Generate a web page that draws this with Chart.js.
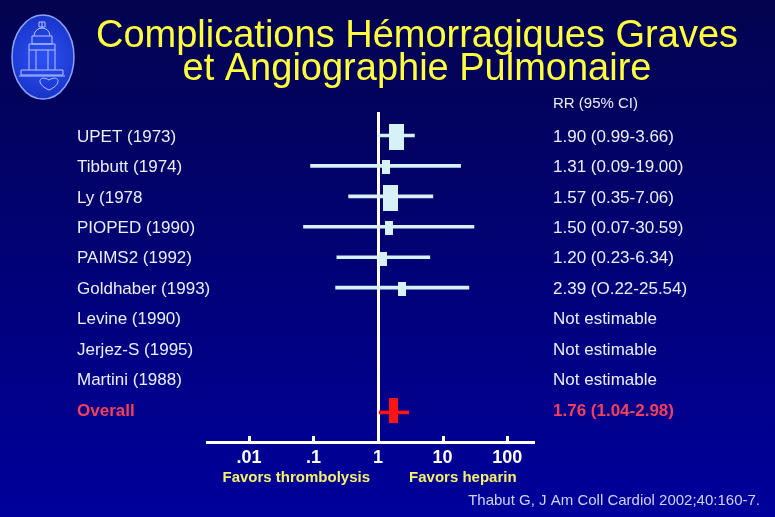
<!DOCTYPE html>
<html>
<head>
<meta charset="utf-8">
<script src="https://cdn.jsdelivr.net/npm/chart.js@4/dist/chart.umd.min.js"></script>
<style>
  html, body { margin: 0; padding: 0; background: #000070; }
  #wrap { width: 775px; height: 517px; position: relative; }
</style>
</head>
<body>
<div id="wrap"><canvas id="c" width="775" height="517"></canvas></div>
<script>
// Studies, relative risks and 95% confidence intervals
const studies = ['UPET (1973)', 'Tibbutt (1974)', 'Ly (1978', 'PIOPED (1990)', 'PAIMS2 (1992)',
  'Goldhaber (1993)', 'Levine (1990)', 'Jerjez-S (1995)', 'Martini (1988)', 'Overall'];
const rr = [1.90, 1.31, 1.57, 1.50, 1.20, 2.39, null, null, null, 1.76];
const ciLow = [0.99, 0.09, 0.35, 0.07, 0.23, 0.22, null, null, null, 1.04];
const ciHigh = [3.66, 19.00, 7.06, 30.59, 6.34, 25.54, null, null, null, 2.98];
const weights = [35, 10, 35, 10, 10, 10, null, null, null, null];
const rrLabels = ['1.90 (0.99-3.66)', '1.31 (0.09-19.00)', '1.57 (0.35-7.06)', '1.50 (0.07-30.59)',
  '1.20 (0.23-6.34)', '2.39 (O.22-25.54)', 'Not estimable', 'Not estimable', 'Not estimable',
  '1.76 (1.04-2.98)'];
const xTicks = [0.01, 0.1, 1, 10, 100];
const xTickLabels = ['.01', '.1', '1', '10', '100'];

const FONT = '"Liberation Sans", Arial, Helvetica, sans-serif';
const OVERALL = studies.length - 1;
const LIGHT = '#d6f2f8';
const RED = '#ff1414';
const TEXT = '#eceef8';
const TEXT_RED = '#f4405a';

// Rectangular marker drawn into an offscreen canvas
function makeBox(w, h, color) {
  const c = document.createElement('canvas');
  c.width = w; c.height = h;
  const g = c.getContext('2d');
  g.fillStyle = color;
  g.fillRect(0, 0, w, h);
  return c;
}

const studyIdx = rr.map((v, i) => i).filter(i => rr[i] !== null && i !== OVERALL);

const ciData = studyIdx.map(i => ({ x: [ciLow[i], ciHigh[i]], y: i }));
const boxData = studyIdx.map(i => ({ x: rr[i], y: i }));
const boxStyles = studyIdx.map(i => {
  const s = Math.sqrt(weights[i]);
  return makeBox(Math.round(2.6 * s), Math.round(4.4 * s), LIGHT);
});

const decorations = {
  id: 'decorations',
  beforeDraw(chart) {
    const ctx = chart.ctx;
    ctx.save();
    const bg = ctx.createLinearGradient(0, 0, 0, chart.height);
    bg.addColorStop(0, '#03034f');
    bg.addColorStop(1, '#00009c');
    ctx.fillStyle = bg;
    ctx.fillRect(0, 0, chart.width, chart.height);

    // emblem
    const cx = 43, cy = 57;
    const rg = ctx.createRadialGradient(cx, cy, 5, cx, cy, 45);
    rg.addColorStop(0, '#2c4ef0');
    rg.addColorStop(1, '#1632c4');
    ctx.beginPath();
    ctx.ellipse(cx, cy, 31, 42, 0, 0, Math.PI * 2);
    ctx.fillStyle = rg;
    ctx.fill();
    ctx.lineWidth = 1.5;
    ctx.strokeStyle = '#8ea2ff';
    ctx.stroke();
    ctx.strokeStyle = '#b4c2ff';
    ctx.lineWidth = 1;
    ctx.beginPath();
    ctx.arc(cx - 1, 36, 8, Math.PI, 0);
    ctx.moveTo(cx - 1, 28); ctx.lineTo(cx - 1, 22);
    ctx.rect(cx - 4, 22, 6, 5);
    ctx.rect(cx - 11, 36, 20, 8);
    ctx.rect(cx - 14, 44, 26, 6);
    ctx.moveTo(cx - 14, 50); ctx.lineTo(cx - 14, 70);
    ctx.moveTo(cx - 7, 50); ctx.lineTo(cx - 7, 70);
    ctx.moveTo(cx + 5, 50); ctx.lineTo(cx + 5, 70);
    ctx.moveTo(cx + 12, 50); ctx.lineTo(cx + 12, 70);
    ctx.rect(cx - 22, 70, 42, 5);
    ctx.moveTo(cx - 24, 76); ctx.lineTo(cx + 22, 76);
    ctx.stroke();
    ctx.beginPath();
    ctx.moveTo(cx + 6, 90);
    ctx.bezierCurveTo(cx - 8, 84, cx - 4, 74, cx + 6, 80);
    ctx.bezierCurveTo(cx + 16, 74, cx + 20, 84, cx + 6, 90);
    ctx.stroke();

    // title
    ctx.fillStyle = '#ffff3e';
    ctx.font = '38px ' + FONT;
    ctx.textAlign = 'center';
    ctx.textBaseline = 'alphabetic';
    ctx.fillText('Complications Hémorragiques Graves', 417, 47);
    ctx.fillText('et Angiographie Pulmonaire', 417, 80);
    ctx.restore();
  },
  afterDraw(chart) {
    const ctx = chart.ctx;
    const x = chart.scales.x;
    const area = chart.chartArea;
    ctx.save();
    // small tick marks above the axis line
    ctx.fillStyle = '#ffffff';
    xTicks.forEach(v => {
      if (v === 1) return;
      const px = Math.round(x.getPixelForValue(v));
      ctx.fillRect(px - 1, area.bottom - 6, 3, 6);
    });
    // column header
    ctx.fillStyle = TEXT;
    ctx.font = '15px ' + FONT;
    ctx.textAlign = 'left';
    ctx.textBaseline = 'middle';
    ctx.fillText('RR (95% CI)', 553, 104);
    // direction captions
    const one = x.getPixelForValue(1);
    ctx.fillStyle = '#f4f26a';
    ctx.font = 'bold 15px ' + FONT;
    ctx.textAlign = 'right';
    ctx.fillText('Favors thrombolysis', one - 8, 478);
    ctx.textAlign = 'left';
    ctx.fillText('Favors heparin', one + 31, 478);
    // source
    ctx.fillStyle = '#d0d2f2';
    ctx.font = '15px ' + FONT;
    ctx.textAlign = 'right';
    ctx.fillText('Thabut G, J Am Coll Cardiol 2002;40:160-7.', 760, 501);
    ctx.restore();
  }
};

const rowTicks = scale => { scale.ticks = studies.map((s, i) => ({ value: i })); };
const rowFont = c => ({ family: FONT, size: 17, weight: c.index === OVERALL ? 'bold' : 'normal' });
const rowColor = c => c.index === OVERALL ? TEXT_RED : TEXT;
const LEFT_COL = 130;

new Chart(document.getElementById('c'), {
  type: 'scatter',
  data: {
    datasets: [
      {
        type: 'bar', indexAxis: 'y', data: ciData,
        backgroundColor: LIGHT, borderWidth: 0, barThickness: 3,
        xAxisID: 'x', yAxisID: 'y'
      },
      {
        type: 'bar', indexAxis: 'y',
        data: [{ x: [ciLow[OVERALL], ciHigh[OVERALL]], y: OVERALL }],
        backgroundColor: RED, borderWidth: 0, barThickness: 3,
        xAxisID: 'x', yAxisID: 'y'
      },
      {
        type: 'scatter', data: boxData, pointStyle: boxStyles,
        xAxisID: 'x', yAxisID: 'y'
      },
      {
        type: 'scatter', data: [{ x: rr[OVERALL], y: OVERALL }],
        pointStyle: makeBox(9, 25, RED),
        xAxisID: 'x', yAxisID: 'y'
      }
    ]
  },
  options: {
    responsive: false,
    animation: false,
    events: [],
    layout: { padding: { top: 112, left: 77, right: 0, bottom: 0 } },
    plugins: { legend: { display: false }, tooltip: { enabled: false } },
    scales: {
      x: {
        type: 'logarithmic',
        min: 0.00224, max: 270,
        offset: false,
        afterBuildTicks: s => { s.ticks = xTicks.map(v => ({ value: v })); },
        afterFit: s => { s.height = 75; },
        ticks: {
          autoSkip: false, maxRotation: 0, padding: 5,
          color: '#ffffff',
          font: { family: FONT, size: 18, weight: 'bold' },
          callback: (v, i) => xTickLabels[i]
        },
        grid: {
          offset: false,
          drawTicks: false,
          color: c => (c.tick && c.tick.value === 1) ? '#ffffff' : 'rgba(0,0,0,0)',
          lineWidth: c => (c.tick && c.tick.value === 1) ? 3 : 0
        },
        border: { display: true, color: '#ffffff', width: 3 }
      },
      y: {
        type: 'linear', position: 'left', reverse: true,
        offset: false,
        min: -0.82, max: 10.02,
        afterBuildTicks: rowTicks,
        afterFit: s => { s.width = LEFT_COL; },
        ticks: {
          autoSkip: false, mirror: true, padding: -LEFT_COL,
          color: rowColor, font: rowFont,
          callback: v => studies[v]
        },
        grid: { display: false, drawTicks: false, offset: false },
        border: { display: false }
      },
      y2: {
        type: 'linear', position: 'right', reverse: true,
        offset: false,
        min: -0.82, max: 10.02,
        afterBuildTicks: rowTicks,
        afterFit: s => { s.width = 240; },
        ticks: {
          autoSkip: false, crossAlign: 'near', padding: 18,
          color: rowColor, font: rowFont,
          callback: v => rrLabels[v]
        },
        grid: { display: false, drawTicks: false },
        border: { display: false }
      }
    }
  },
  plugins: [decorations]
});
</script>
</body>
</html>
